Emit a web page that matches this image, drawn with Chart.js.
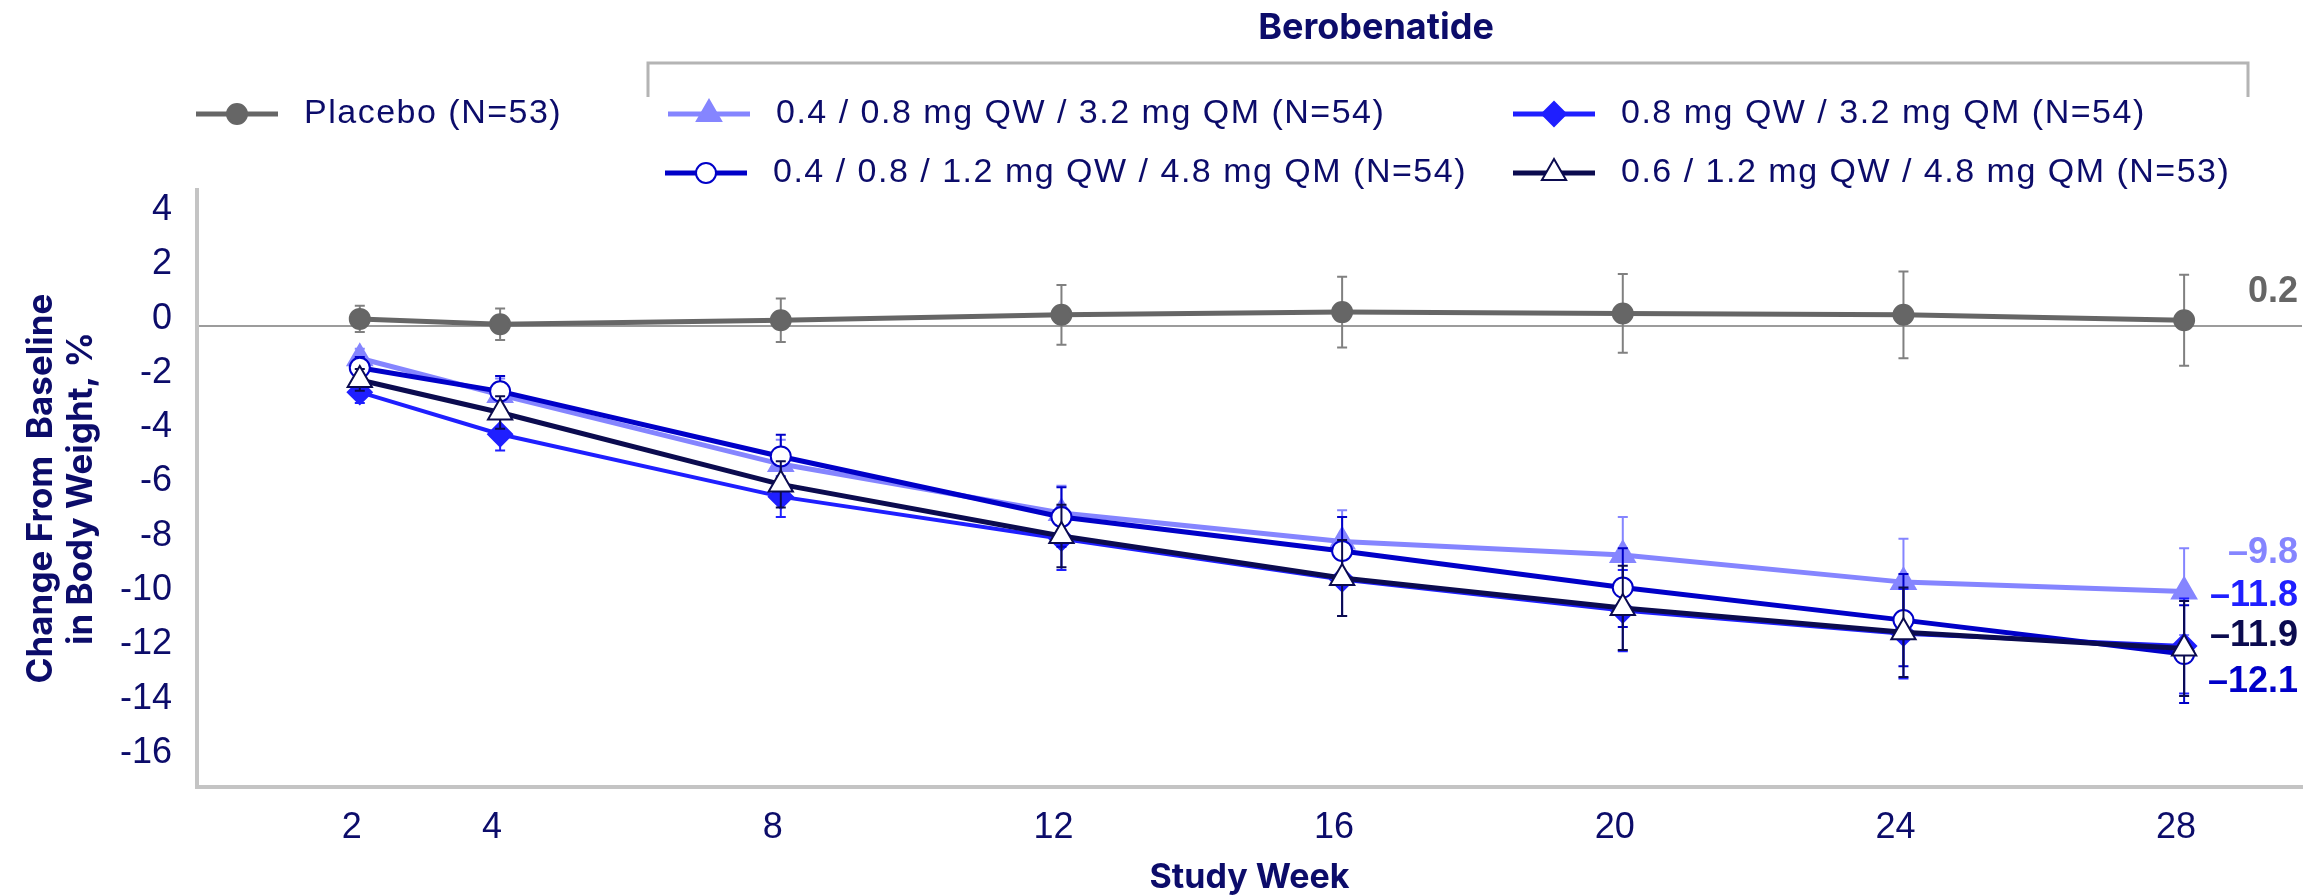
<!DOCTYPE html>
<html>
<head>
<meta charset="utf-8">
<script src="https://cdn.jsdelivr.net/npm/chart.js@4.4.1/dist/chart.umd.min.js"></script>
<style>
  html, body { margin: 0; padding: 0; background: #fff; }
  #wrap { width: 2318px; height: 895px; }
</style>
</head>
<body>
<div id="wrap"><canvas id="chart" width="2318" height="895"></canvas></div>
<script>
// ---- data ----
const weeks  = [2, 4, 8, 12, 16, 20, 24, 28];
const yTicks = [4, 2, 0, -2, -4, -6, -8, -10, -12, -14, -16];

const placebo    = [0.25, 0.05, 0.2, 0.4, 0.5, 0.45, 0.4, 0.2];
const placeboErr = [0.48, 0.58, 0.8, 1.1, 1.3, 1.45, 1.6, 1.68];
const low32      = [-1.2, -2.55, -5.1, -6.9, -7.95, -8.45, -9.45, -9.8];
const low32Err   = [0.35, 0.6, 0.9, 1.0, 1.15, 1.4, 1.6, 1.6];
const mid32      = [-2.45, -4.0, -6.3, -7.85, -9.35, -10.5, -11.35, -11.8];
const mid32Err   = [0.4, 0.6, 0.75, 1.15, 1.35, 1.5, 1.65, 1.75];
const esc48      = [-1.55, -2.42, -4.82, -7.05, -8.3, -9.65, -10.85, -12.1];
const esc48Err   = [0.4, 0.57, 0.8, 1.1, 1.25, 1.45, 1.7, 1.8];
const hi48       = [-2.0, -3.2, -5.85, -7.75, -9.3, -10.4, -11.3, -11.9];
const hi48Err    = [0.4, 0.6, 0.85, 1.15, 1.4, 1.55, 1.65, 1.75];

const seriesNames = [
  "Placebo (N=53)",
  "0.4 / 0.8 mg QW / 3.2 mg QM (N=54)",
  "0.8 mg QW / 3.2 mg QM (N=54)",
  "0.4 / 0.8 / 1.2 mg QW / 4.8 mg QM (N=54)",
  "0.6 / 1.2 mg QW / 4.8 mg QM (N=53)"
];
const endLabels  = ["0.2", "\u20139.8", "\u201311.8", "\u201312.1", "\u201311.9"];
const groupTitle = "Berobenatide";
const xTitle     = "Study Week";
const yTitle     = ["Change From  Baseline", "in Body Weight, %"];

// ---- styling ----
const navy     = "#0c0c6a";
const axisGray = "#c4c4c4";
const zeroGray = "#9c9c9c";
const tickFont = { family: "'Liberation Sans', Arial, sans-serif", size: 36 };

const pts = vals => weeks.map((w, i) => ({ x: w, y: vals[i] }));

function series(i, vals, errs, o) {
  return Object.assign({
    label: seriesNames[i],
    data: pts(vals),
    errors: errs,
    endLabel: endLabels[i],
    borderWidth: 5,
    pointBorderWidth: 2,
    tension: 0,
    fill: false
  }, o);
}

const datasets = [
  series(0, placebo, placeboErr, {
    borderColor: "#666666", backgroundColor: "#666666", pointBackgroundColor: "#666666",
    pointBorderColor: "#666666", pointStyle: "circle", pointRadius: 10,
    errColor: "#808080", endDy: -28, order: 1, legendAt: [196, 114]
  }),
  series(1, low32, low32Err, {
    borderColor: "#8585ff", backgroundColor: "#8585ff", pointBackgroundColor: "#8585ff",
    pointBorderColor: "#8585ff", pointStyle: "triangle", pointRadius: 14,
    errColor: "#8585ff", endDy: -39, order: 5, legendAt: [668, 114]
  }),
  series(2, mid32, mid32Err, {
    borderColor: "#1f1fff", backgroundColor: "#1f1fff", pointBackgroundColor: "#1f1fff",
    pointBorderColor: "#1f1fff", pointStyle: "rectRot", pointRadius: 12, borderWidth: 4,
    errColor: "#1f1fff", endDy: -50, order: 4, legendAt: [1513, 114]
  }),
  series(3, esc48, esc48Err, {
    borderColor: "#0000c8", backgroundColor: "#ffffff", pointBackgroundColor: "#ffffff",
    pointBorderColor: "#0000c8", pointStyle: "circle", pointRadius: 10,
    errColor: "#0000c8", endDy: 28, order: 3, legendAt: [665, 173]
  }),
  series(4, hi48, hi48Err, {
    borderColor: "#0b0b4f", backgroundColor: "#ffffff", pointBackgroundColor: "#ffffff",
    pointBorderColor: "#0b0b4f", pointStyle: "triangle", pointRadius: 14,
    errColor: "#0b0b4f", endDy: -13, order: 2, legendAt: [1513, 173]
  })
];

// ---- plugins ----
// error bars under each series, drawn from the y scale
const errorBars = {
  id: "errorBars",
  beforeDatasetDraw(chart, args) {
    const ds = chart.data.datasets[args.index];
    if (!ds.errors) return;
    const y = chart.scales.y, ctx = chart.ctx;
    ctx.save();
    ctx.strokeStyle = ds.errColor;
    ctx.lineWidth = 2;
    args.meta.data.forEach((pt, i) => {
      const v = ds.data[i].y, e = ds.errors[i];
      const top = y.getPixelForValue(v + e), bot = y.getPixelForValue(v - e);
      ctx.beginPath();
      ctx.moveTo(pt.x, top); ctx.lineTo(pt.x, bot);
      ctx.moveTo(pt.x - 5, top); ctx.lineTo(pt.x + 5, top);
      ctx.moveTo(pt.x - 5, bot); ctx.lineTo(pt.x + 5, bot);
      ctx.stroke();
    });
    ctx.restore();
  }
};

// value labels at the right end of each line
const endValues = {
  id: "endValues",
  afterDatasetsDraw(chart) {
    const ctx = chart.ctx;
    ctx.save();
    ctx.font = "700 36px 'Liberation Sans', Arial, sans-serif";
    ctx.textAlign = "right";
    ctx.textBaseline = "middle";
    chart.data.datasets.forEach((ds, i) => {
      const meta = chart.getDatasetMeta(i);
      const last = meta.data[meta.data.length - 1];
      ctx.fillStyle = ds.borderColor;
      ctx.fillText(ds.endLabel, chart.chartArea.right - 4, last.y + ds.endDy);
    });
    ctx.restore();
  }
};

function marker(ctx, ds, x, y) {
  ctx.fillStyle = ds.pointBackgroundColor;
  ctx.strokeStyle = ds.pointBorderColor;
  ctx.lineWidth = ds.pointBorderWidth;
  Chart.helpers.drawPoint(ctx, { pointStyle: ds.pointStyle, radius: ds.pointRadius, borderWidth: ds.pointBorderWidth, rotation: 0 }, x, y);
}

// group bracket + two-column legend
const header = {
  id: "header",
  afterDraw(chart) {
    const ctx = chart.ctx;
    ctx.save();
    ctx.strokeStyle = "#b4b4b4";
    ctx.lineWidth = 3;
    ctx.beginPath();
    ctx.moveTo(648, 97); ctx.lineTo(648, 63); ctx.lineTo(2248, 63); ctx.lineTo(2248, 97);
    ctx.stroke();

    ctx.fillStyle = navy;
    ctx.font = "700 36px Inter, 'Liberation Sans', sans-serif";
    ctx.textAlign = "center";
    ctx.textBaseline = "middle";
    ctx.fillText(groupTitle, 1376, 28);

    chart.data.datasets.forEach(ds => {
      const [x, y] = ds.legendAt;
      ctx.strokeStyle = ds.borderColor;
      ctx.lineWidth = 5;
      ctx.beginPath(); ctx.moveTo(x, y); ctx.lineTo(x + 82, y); ctx.stroke();
      marker(ctx, ds, x + 41, y);
      ctx.fillStyle = navy;
      ctx.font = "34px 'Liberation Sans', Arial, sans-serif";
      ctx.letterSpacing = "1.5px";
      ctx.textAlign = "left";
      ctx.fillText(ds.label, x + 108, y);
      ctx.letterSpacing = "0px";
    });
    ctx.restore();
  }
};

new Chart(document.getElementById("chart").getContext("2d"), {
  type: "line",
  data: { datasets },
  options: {
    responsive: false,
    animation: false,
    events: [],
    layout: { padding: { top: 190, right: 0, bottom: 0, left: 0 } },
    plugins: { legend: { display: false }, tooltip: { enabled: false } },
    scales: {
      x: {
        type: "linear", min: -0.32, max: 29.68,
        afterBuildTicks: s => { s.ticks = weeks.map(v => ({ value: v })); },
        afterFit: s => { s.height = 108; },
        grid: { display: false },
        border: { display: true, color: axisGray, width: 4 },
        ticks: { color: navy, font: tickFont, padding: 11, autoSkip: false, maxRotation: 0, labelOffset: -8 },
        title: { display: true, text: xTitle, color: navy, padding: 0,
                 font: { family: "Inter, 'Liberation Sans', sans-serif", weight: "700", size: 34, lineHeight: 1 } }
      },
      y: {
        min: -17, max: 5,
        afterBuildTicks: s => { s.ticks = yTicks.map(v => ({ value: v })); },
        afterFit: s => { s.width = 197; },
        grid: { drawTicks: false, lineWidth: 2,
                color: c => (c.tick && c.tick.value === 0) ? zeroGray : "rgba(0,0,0,0)" },
        border: { display: true, color: axisGray, width: 4 },
        ticks: { color: navy, font: tickFont, padding: 25, labelOffset: -7 },
        title: { display: true, text: yTitle, color: navy, padding: { top: 21, bottom: 0 },
                 font: { family: "Inter, 'Liberation Sans', sans-serif", weight: "700", size: 35, lineHeight: 1.143 } }
      }
    }
  },
  plugins: [errorBars, endValues, header]
});
</script>
</body>
</html>
